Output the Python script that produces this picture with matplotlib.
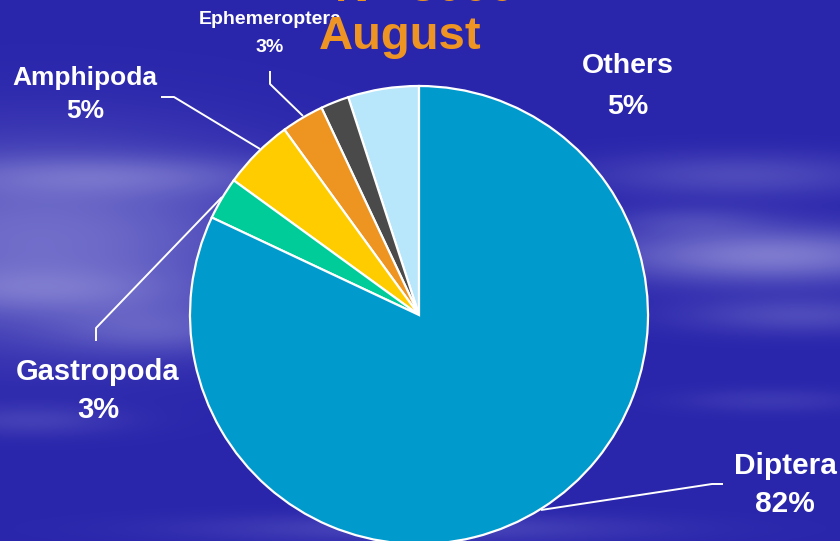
import numpy as np
import matplotlib
matplotlib.use("Agg")
import matplotlib.pyplot as plt

# ---- data ----
categories = ["Others", "", "Ephemeroptera", "Amphipoda", "Gastropoda", "Diptera"]
values = [5, 2, 3, 5, 3, 82]
pct_labels = ["5%", "", "3%", "5%", "3%", "82%"]
colors = ["#B8E6FB", "#4A4A4A", "#EE9420", "#FFCC00", "#00CC99", "#009ACD"]
title_lines = ["N= 3000", "August"]

W, H = 840, 541
fig = plt.figure(figsize=(W / 100, H / 100), dpi=100)
ax = fig.add_axes([0, 0, 1, 1])

# ---- background: deep blue with soft cloud streaks ----
yy, xx = np.mgrid[0:H, 0:W]
base = np.array([42, 38, 172]) / 255.0
cloud = np.array([160, 158, 222]) / 255.0
blobs = [  # (cx, cy, sx, sy, strength) in pixel coords (y down)
    (40, 240, 240, 95, 0.6), (120, 175, 180, 20, 0.3), (40, 290, 150, 22, 0.25),
    (160, 330, 110, 25, 0.3), (30, 420, 90, 15, 0.2),
    (770, 255, 170, 28, 0.7), (740, 175, 150, 22, 0.3), (800, 315, 120, 18, 0.3),
    (690, 220, 80, 15, 0.2), (420, 528, 220, 14, 0.25), (770, 400, 90, 12, 0.15),
]
m = np.zeros((H, W))
for bx, by, sx, sy, s in blobs:
    m += s * np.exp(-(((xx - bx) / sx) ** 2 + ((yy - by) / sy) ** 2))
m = np.clip(m, 0, 0.85)[..., None]
img = base * (1 - m) + cloud * m
ax.imshow(img, extent=(0, W, 0, H), origin="upper", zorder=0, aspect="auto")

# ---- pie ----
cx, cy, r = 419, H - 315, 229
ax.pie(values, colors=colors, startangle=90, counterclock=True,
       center=(cx, cy), radius=r, frame=True,
       wedgeprops=dict(edgecolor="white", linewidth=1.6))
ax.set_xlim(0, W)
ax.set_ylim(0, H)
ax.set_aspect("auto")
ax.axis("off")

def P(x, y):
    return x, H - y

font = "Liberation Sans"
lbl = dict(color="white", fontweight="bold", family=font, ha="center", va="center")

label_pos = {
    "Others": ((628, 66), (628, 107), 20.5),
    "Ephemeroptera": ((270, 20), (270, 48), 14),
    "Amphipoda": ((85, 78), (85, 111), 19),
    "Gastropoda": ((98, 372), (98, 410), 21),
    "Diptera": ((785, 466), (785, 504), 21.5),
}
for name, pct in zip(categories, pct_labels):
    if not name:
        continue
    (x1, y1), (x2, y2), fs = label_pos[name]
    ax.text(*P(x1, y1), name, fontsize=fs, **lbl, zorder=5)
    ax.text(*P(x2, y2), pct, fontsize=fs, **lbl, zorder=5)

# leader lines
leaders = [
    [(270, 71), (270, 84), (303, 116)],
    [(161, 97), (174, 97), (260, 149)],
    [(96, 341), (96, 328), (222, 197)],
    [(723, 484), (712, 484), (541, 510)],
]
for pts in leaders:
    xs, ys = zip(*[P(x, y) for x, y in pts])
    ax.plot(xs, ys, color="white", lw=1.4, zorder=4, solid_capstyle="butt")

# title (top line partially cut off at the figure edge)
ax.text(*P(425, 1.0), title_lines[0], color="#EE9422", fontsize=34, fontweight="bold",
        family=font, ha="center", va="baseline", zorder=6)
ax.text(*P(400, 49), title_lines[1], color="#EE9422", fontsize=34, fontweight="bold",
        family=font, ha="center", va="baseline", zorder=6)

fig.savefig("out.png", dpi=100)
